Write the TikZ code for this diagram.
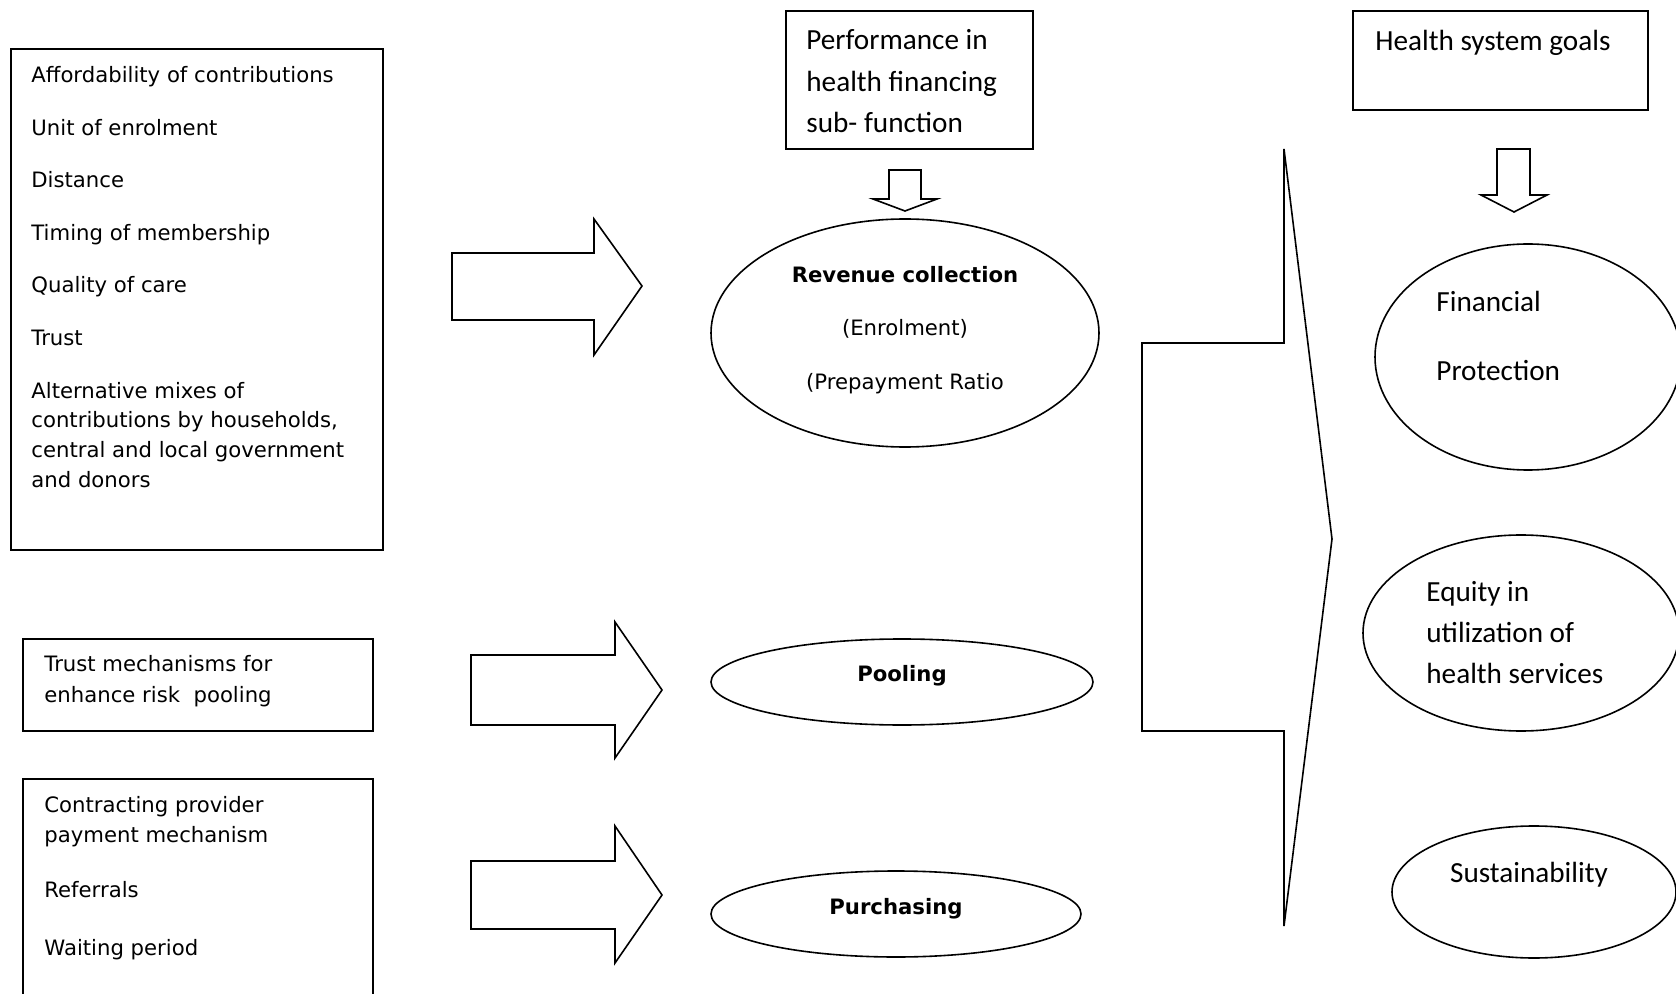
\documentclass[tikz,border=0pt]{standalone}
\usepackage{fontspec}
\usetikzlibrary{shapes.geometric}
\newfontfamily\verdfont{DejaVu Sans}
\newfontfamily\calfont{Carlito}
\tikzset{
  boxline/.style={draw, line width=1pt, rectangle, inner sep=0pt},
  oval/.style={draw, line width=0.8pt, ellipse, inner sep=0pt},
  blockarrow/.style={draw, line width=0.8pt, line join=miter},
  vtext/.style={font=\verdfont\fontsize{10.6}{13}\selectfont, inner sep=0pt, text height=8pt, text depth=2.3pt},
  vbold/.style={font=\verdfont\bfseries\fontsize{10.6}{13}\selectfont, inner sep=0pt, text height=8pt, text depth=2.3pt},
  ctext/.style={font=\calfont\fontsize{14.6}{18}\selectfont, inner sep=0pt, text height=10.5pt, text depth=3.2pt}
}
\begin{document}
\begin{tikzpicture}[x=0.5pt, y=-0.5pt]
  \useasboundingbox (0,0) rectangle (1676,994);
  \clip (0,0) rectangle (1676,994);

  % Drawing box of factors for revenue collection
  \node (factors) [boxline, minimum width=186pt, minimum height=250.5pt] at (197,299.5) {};
  \node (aff) [vtext, anchor=west] at (31,77) {Affordability of contributions};
  \node (unit) [vtext, anchor=west] at (31,130) {Unit of enrolment};
  \node (dist) [vtext, anchor=west] at (31,182) {Distance};
  \node (timing) [vtext, anchor=west] at (31,235) {Timing of membership};
  \node (quality) [vtext, anchor=west] at (31,287) {Quality of care};
  \node (trust) [vtext, anchor=west] at (31,340) {Trust};
  \node (mixa) [vtext, anchor=west] at (31,393) {Alternative mixes of};
  \node (mixb) [vtext, anchor=west] at (31,422) {contributions by households,};
  \node (mixc) [vtext, anchor=west] at (31,452) {central and local government};
  \node (mixd) [vtext, anchor=west] at (31,482) {and donors};

  % Drawing box of pooling factors
  \node (trustbox) [boxline, minimum width=175.25pt, minimum height=46pt] at (197.75,685) {};
  \node (trusta) [vtext, anchor=west] at (44,666) {Trust mechanisms for};
  \node (trustb) [vtext, anchor=west] at (44,697) {enhance risk\ \ pooling};

  % Drawing box of purchasing factors
  \node (contract) [boxline, minimum width=175.25pt, minimum height=115.5pt] at (197.75,894.5) {};
  \node (conta) [vtext, anchor=west] at (44,807) {Contracting provider};
  \node (contb) [vtext, anchor=west] at (44,837) {payment mechanism};
  \node (referral) [vtext, anchor=west] at (44,892) {Referrals};
  \node (waiting) [vtext, anchor=west] at (44,950) {Waiting period};

  % Drawing block arrows to the sub-functions
  \draw [blockarrow] (452,253) -- (594,253) -- (594,219) -- (642,286) -- (594,355) -- (594,320) -- (452,320) -- cycle;
  \draw [blockarrow] (471,655) -- (615,655) -- (615,622) -- (662,690) -- (615,758) -- (615,725) -- (471,725) -- cycle;
  \draw [blockarrow] (471,861) -- (615,861) -- (615,826) -- (662,895) -- (615,963) -- (615,929) -- (471,929) -- cycle;

  % Drawing box of performance
  \node (perf) [boxline, minimum width=123.5pt, minimum height=69pt] at (909.5,80) {};
  \node (perfa) [ctext, anchor=west] at (806,42) {Performance in};
  \node (perfb) [ctext, anchor=west] at (806,84) {health financing};
  \node (perfc) [ctext, anchor=west] at (806,125) {sub- function};
  \draw [blockarrow] (889,170) -- (921,170) -- (921,199) -- (937,199) -- (905,211) -- (873,199) -- (889,199) -- cycle;

  % Drawing health financing sub-functions
  \node (rev) [oval, minimum width=194pt, minimum height=114pt] at (905,333) {};
  \node (revt) [vbold] at (905,277) {Revenue collection};
  \node (enrol) [vtext] at (905,330) {(Enrolment)};
  \node (prepay) [vtext] at (905,384) {(Prepayment Ratio};
  \node (pool) [oval, minimum width=191pt, minimum height=43pt] at (902,682) {};
  \node (poolt) [vbold] at (902,676) {Pooling};
  \node (purch) [oval, minimum width=185pt, minimum height=43pt] at (896,914) {};
  \node (purcht) [vbold] at (896,909) {Purchasing};

  % Drawing bracket arrow to the goals
  \draw [blockarrow] (1142,343) -- (1284,343) -- (1284,149) -- (1332,539) -- (1284,926) -- (1284,731) -- (1142,731) -- cycle;

  % Drawing box of health system goals
  \node (goals) [boxline, minimum width=147.5pt, minimum height=49.5pt] at (1500.5,60.5) {};
  \node (goalst) [ctext, anchor=west] at (1375,43) {Health system goals};
  \draw [blockarrow] (1497,149) -- (1530,149) -- (1530,195) -- (1547,195) -- (1514,212) -- (1481,195) -- (1497,195) -- cycle;

  % Drawing goals
  \node (finprot) [oval, minimum width=153pt, minimum height=113pt] at (1528,357) {};
  \node (fina) [ctext, anchor=west] at (1436,304) {Financial};
  \node (finb) [ctext, anchor=west] at (1436,373) {Protection};
  \node (equity) [oval, minimum width=158pt, minimum height=98pt] at (1521,633) {};
  \node (equa) [ctext, anchor=west] at (1426,594) {Equity in};
  \node (equb) [ctext, anchor=west] at (1426,635) {utilization of};
  \node (equc) [ctext, anchor=west] at (1426,676) {health services};
  \node (sust) [oval, minimum width=142pt, minimum height=66pt] at (1534,892) {};
  \node (sustt) [ctext] at (1529,875) {Sustainability};
\end{tikzpicture}
\end{document}
